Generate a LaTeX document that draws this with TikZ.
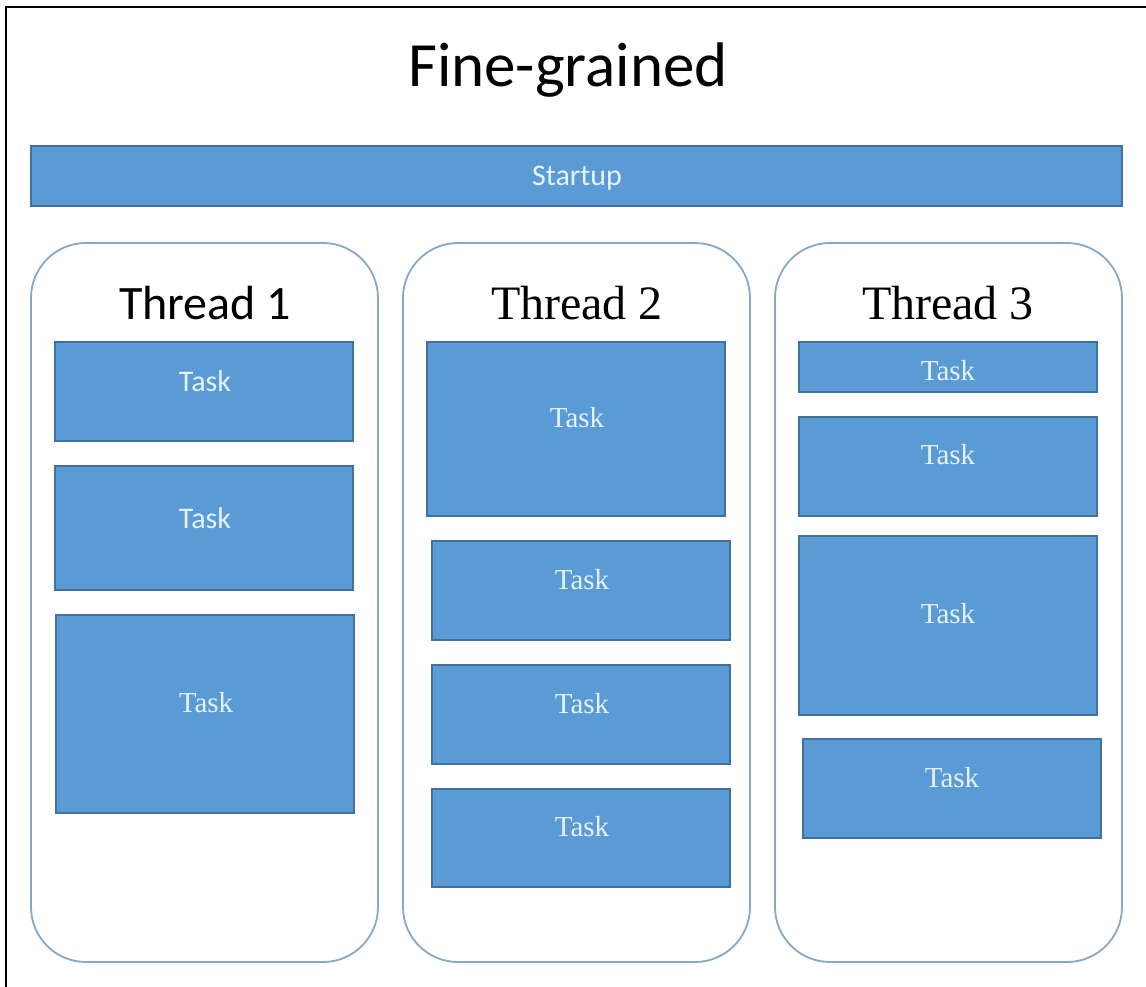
\documentclass[tikz,border=0pt]{standalone}
\usepackage{fontspec}
\setmainfont{Liberation Serif}
\newfontfamily\calfont{Carlito}
\definecolor{taskfill}{HTML}{5B9BD5}
\definecolor{taskedge}{HTML}{41719C}
\definecolor{threadedge}{HTML}{86A8C8}
\definecolor{tasktext}{HTML}{E6F2FB}
\tikzset{
  taskbox/.style={draw=taskedge, line width=1.2pt, fill=taskfill, inner sep=0pt},
  threadbox/.style={draw=threadedge, line width=1.8pt, rounded corners=55pt, fill=white, inner sep=0pt},
  sanstask/.style={text=tasktext, font=\calfont\fontsize{30}{30}\selectfont, inner sep=0pt},
  seriftask/.style={text=tasktext, font=\fontsize{29}{29}\selectfont, inner sep=0pt},
  threadtitle/.style={text=black, inner sep=0pt},
}
\begin{document}
\begin{tikzpicture}[x=1pt,y=-1pt]
\useasboundingbox (0,0) rectangle (1146,986);
\fill[white] (0,0) rectangle (1146,986);
% frame
\draw[black, line width=2pt] (6,990) -- (6,7) -- (1150,7);
% title
\node[threadtitle, font=\calfont\fontsize{63}{63}\selectfont] (title) at (568,70) {Fine-grained};
% startup
\node[taskbox, minimum width=1091pt, minimum height=60pt] (startup) at (576.5,176) {};
\node[sanstask] (startupL) at (577,178) {Startup};
% thread containers
\node[threadbox, minimum width=347pt, minimum height=719pt] (th1) at (204.5,602.5) {};
\node[threadbox, minimum width=347pt, minimum height=719pt] (th2) at (576.5,602.5) {};
\node[threadbox, minimum width=347pt, minimum height=719pt] (th3) at (948.5,602.5) {};
% thread titles
\node[threadtitle, font=\calfont\fontsize{48}{48}\selectfont] (th1L) at (205,303) {Thread 1};
\node[threadtitle, font=\fontsize{48}{48}\selectfont] (th2L) at (577,303) {Thread 2};
\node[threadtitle, font=\fontsize{48}{48}\selectfont] (th3L) at (948,303) {Thread 3};
% thread 1 tasks
\node[taskbox, minimum width=298pt, minimum height=99pt] (t1a) at (204,391.5) {};
\node[sanstask] (t1aL) at (205,381) {Task};
\node[taskbox, minimum width=298pt, minimum height=124pt] (t1b) at (204,528) {};
\node[sanstask] (t1bL) at (205,518) {Task};
\node[taskbox, minimum width=298pt, minimum height=198pt] (t1c) at (205,714) {};
\node[seriftask] (t1cL) at (206,703) {Task};
% thread 2 tasks
\node[taskbox, minimum width=298pt, minimum height=174pt] (t2a) at (576,429) {};
\node[seriftask] (t2aL) at (577,418) {Task};
\node[taskbox, minimum width=298pt, minimum height=99pt] (t2b) at (581,590.5) {};
\node[seriftask] (t2bL) at (582,580) {Task};
\node[taskbox, minimum width=298pt, minimum height=99pt] (t2c) at (581,714.5) {};
\node[seriftask] (t2cL) at (582,704) {Task};
\node[taskbox, minimum width=298pt, minimum height=98pt] (t2d) at (581,838) {};
\node[seriftask] (t2dL) at (582,827) {Task};
% thread 3 tasks
\node[taskbox, minimum width=298pt, minimum height=50pt] (t3a) at (948,367) {};
\node[seriftask] (t3aL) at (948,371) {Task};
\node[taskbox, minimum width=298pt, minimum height=99pt] (t3b) at (948,466.5) {};
\node[seriftask] (t3bL) at (948,455) {Task};
\node[taskbox, minimum width=298pt, minimum height=179pt] (t3c) at (948,625.5) {};
\node[seriftask] (t3cL) at (948,614) {Task};
\node[taskbox, minimum width=298pt, minimum height=99pt] (t3d) at (952,788.5) {};
\node[seriftask] (t3dL) at (952,778) {Task};
\end{tikzpicture}
\end{document}
